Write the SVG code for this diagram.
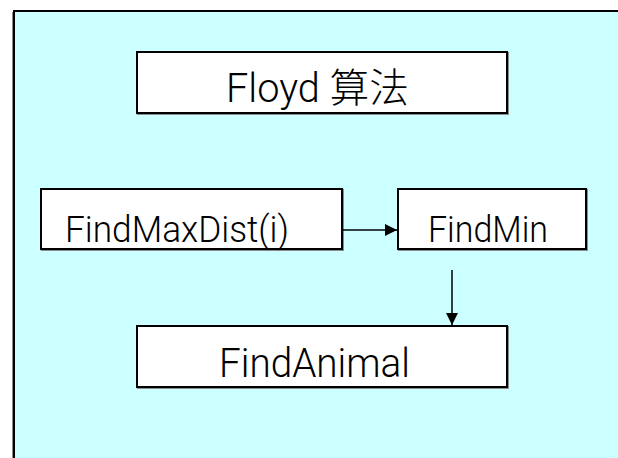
<svg xmlns="http://www.w3.org/2000/svg" width="618" height="458" viewBox="0 0 618 458">
  <style>
    .shadow { fill: none; stroke: #8c8c8c; stroke-width: 2; }
    .box { fill: #ffffff; stroke: #000000; stroke-width: 2; }
    .lbl { font-family: Roboto, "Noto Sans CJK SC", sans-serif; font-weight: 300; font-size: 40px; fill: #000000; }
    .sm { font-size: 37px; }
    .wire { stroke: #000000; stroke-width: 1.5; fill: none; }
  </style>
  <defs>
    <marker id="arrowBig" viewBox="0 0 10 10" refX="10" refY="5" markerWidth="14" markerHeight="12" markerUnits="userSpaceOnUse" orient="auto">
      <path d="M0,0 L10,5 L0,10 Z" fill="#000000"/>
    </marker>
  </defs>

  <!-- background panel -->
  <rect x="14" y="11" width="620" height="460" fill="#ccffff" stroke="#000000" stroke-width="2"/>
  <line x1="12.5" y1="12" x2="12.5" y2="458" stroke="#8c8c8c" stroke-width="1"/>

  <g id="floyd">
    <rect class="shadow" x="138" y="53" width="370" height="61"/>
    <rect class="box" x="137" y="52" width="370" height="61"/>
    <text class="lbl" x="226" y="102" textLength="183" lengthAdjust="spacingAndGlyphs">Floyd 算法</text>
  </g>

  <g id="findMaxDist">
    <rect class="shadow" x="42" y="190" width="301" height="60"/>
    <rect class="box" x="41" y="189" width="301" height="60"/>
    <text class="lbl sm" x="65" y="242" textLength="224" lengthAdjust="spacingAndGlyphs">FindMaxDist(i)</text>
  </g>

  <g id="findMin">
    <rect class="shadow" x="399" y="190" width="188" height="60"/>
    <rect class="box" x="398" y="189" width="188" height="60"/>
    <text class="lbl sm" x="428" y="242" textLength="120" lengthAdjust="spacingAndGlyphs">FindMin</text>
  </g>

  <g id="findAnimal">
    <rect class="shadow" x="138" y="327" width="370" height="61"/>
    <rect class="box" x="137" y="326" width="370" height="61"/>
    <text class="lbl" x="219" y="377" textLength="191" lengthAdjust="spacingAndGlyphs">FindAnimal</text>
  </g>

  <g id="connectors">
    <line class="wire" x1="342" y1="230" x2="397" y2="230" marker-end="url(#arrowBig)"/>
    <line class="wire" x1="452" y1="270" x2="452" y2="325" marker-end="url(#arrowBig)"/>
  </g>
</svg>
